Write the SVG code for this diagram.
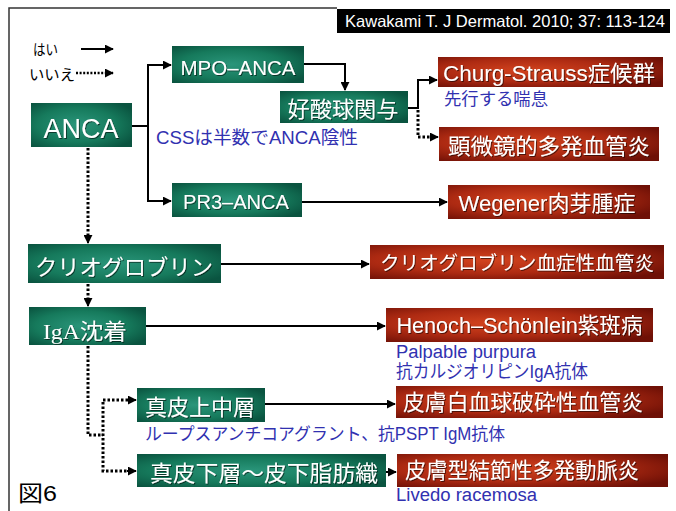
<svg xmlns="http://www.w3.org/2000/svg" width="676" height="511" viewBox="0 0 676 511">
<defs>
<radialGradient id="gG" cx="0.45" cy="0.5" r="0.65">
<stop offset="0" stop-color="#2a957a"/>
<stop offset="0.6" stop-color="#167a5c"/>
<stop offset="1" stop-color="#0a5440"/>
</radialGradient>
<radialGradient id="gR" cx="0.4" cy="0.45" r="0.7">
<stop offset="0" stop-color="#d2431e"/>
<stop offset="0.55" stop-color="#ad2a12"/>
<stop offset="1" stop-color="#6e1006"/>
</radialGradient>
<filter id="sh" x="-5%" y="-20%" width="110%" height="140%">
<feDropShadow dx="1" dy="1" stdDeviation="0.4" flood-color="#000" flood-opacity="0.55"/>
</filter>
<marker id="ah" viewBox="0 0 10 10" refX="9" refY="5" markerWidth="9" markerHeight="9" markerUnits="userSpaceOnUse" orient="auto">
<path d="M0,0 L10,5 L0,10 z" fill="#000"/>
</marker>
<style>
.g{fill:url(#gG)}
.r{fill:url(#gR)}
.t{fill:#fff;font-family:"Liberation Sans","Noto Sans CJK JP",sans-serif;font-size:22px;text-anchor:middle;filter:url(#sh)}
.b{fill:#3131b0;font-family:"Liberation Sans","Noto Sans CJK JP",sans-serif;font-size:18px}
.k{fill:#000;font-family:"Liberation Sans","Noto Sans CJK JP",sans-serif;font-size:15px}
.s{fill:none;stroke:#000;stroke-width:2}
.d{fill:none;stroke:#000;stroke-width:3;stroke-dasharray:2.5 2}
</style>
</defs>
<rect width="676" height="511" fill="#fff"/>
<path d="M9,511 V8 H337" fill="none" stroke="#333" stroke-width="1.5"/>
<g id="title">
<rect x="337" y="9" width="333" height="24" fill="#000"/>
<text x="505" y="27" fill="#fff" font-family="Liberation Sans, sans-serif" font-size="16.5" text-anchor="middle" textLength="320" lengthAdjust="spacingAndGlyphs">Kawakami T. J Dermatol. 2010; 37: 113-124</text>
</g>
<g id="legend">
<text class="k" x="33" y="55" textLength="25" lengthAdjust="spacingAndGlyphs">はい</text>
<text class="k" x="29" y="80" textLength="46" lengthAdjust="spacingAndGlyphs">いいえ</text>
<path class="s" d="M81,49 H113" marker-end="url(#ah)"/>
<path d="M76,73 H113" fill="none" stroke="#000" stroke-width="2.5" stroke-dasharray="2 1.6" marker-end="url(#ah)"/>
</g>
<text x="18" y="501" fill="#000" font-family="Liberation Sans, Noto Sans CJK JP, sans-serif" font-size="22" textLength="39" lengthAdjust="spacingAndGlyphs">図6</text>

<g id="connectors">
<path class="s" d="M132,126 H148 V65 H171" marker-end="url(#ah)"/>
<path class="s" d="M148,126 V201 H171" marker-end="url(#ah)"/>
<path class="s" d="M304,64 H345 V90" marker-end="url(#ah)"/>
<path class="s" d="M408,108 H418 V80 H437" marker-end="url(#ah)"/>
<path class="d" d="M418,110 V137 H430"/>
<path class="s" d="M430,137 H438" marker-end="url(#ah)"/>
<path class="s" d="M302,202 H447" marker-end="url(#ah)"/>
<path class="d" d="M88,148 V236"/>
<path class="s" d="M88,236 V243" marker-end="url(#ah)"/>
<path class="s" d="M221,264 H369" marker-end="url(#ah)"/>
<path class="d" d="M88,284 V299"/>
<path class="s" d="M88,299 V306" marker-end="url(#ah)"/>
<path class="s" d="M146,326 H385" marker-end="url(#ah)"/>
<path class="d" d="M88,346 V435 H103"/>
<path class="d" d="M128,400 H103 V471 H128"/>
<path class="s" d="M127,400 H136" marker-end="url(#ah)"/>
<path class="s" d="M127,471 H136" marker-end="url(#ah)"/>
<path class="s" d="M265,404 H395" marker-end="url(#ah)"/>
<path class="s" d="M386,472 H396" marker-end="url(#ah)"/>
</g>

<g id="anca"><rect class="g" x="31" y="103" width="101" height="44"/><text class="t" x="81" y="138" style="font-size:27px" textLength="75" lengthAdjust="spacingAndGlyphs">ANCA</text></g>
<g id="mpo"><rect class="g" x="172" y="46" width="132" height="37"/><text class="t" x="238" y="75" style="font-size:20px" textLength="115" lengthAdjust="spacingAndGlyphs">MPO–ANCA</text></g>
<g id="kosan"><rect class="g" x="280" y="91" width="128" height="32"/><text class="t" x="343" y="117" textLength="111" lengthAdjust="spacingAndGlyphs">好酸球関与</text></g>
<g id="pr3"><rect class="g" x="172" y="183" width="130" height="34"/><text class="t" x="236" y="209" style="font-size:20px" textLength="106" lengthAdjust="spacingAndGlyphs">PR3–ANCA</text></g>
<g id="cryo"><rect class="g" x="28" y="244" width="193" height="39"/><text class="t" x="124" y="275" textLength="178" lengthAdjust="spacingAndGlyphs">クリオグロブリン</text></g>
<g id="iga"><rect class="g" x="29" y="307" width="117" height="38"/><text class="t" x="85" y="339" style="font-family:'Liberation Serif','Noto Sans CJK JP',serif" textLength="84" lengthAdjust="spacingAndGlyphs">IgA沈着</text></g>
<g id="shinpi1"><rect class="g" x="137" y="388" width="128" height="34"/><text class="t" x="200" y="415" textLength="110" lengthAdjust="spacingAndGlyphs">真皮上中層</text></g>
<g id="shinpi2"><rect class="g" x="137" y="454" width="249" height="33"/><text class="t" x="264" y="481" textLength="228" lengthAdjust="spacingAndGlyphs">真皮下層〜皮下脂肪織</text></g>

<g id="churg"><rect class="r" x="438" y="57" width="225" height="30"/><text class="t" x="549" y="81" textLength="212" lengthAdjust="spacingAndGlyphs">Churg-Strauss症候群</text></g>
<g id="mpa"><rect class="r" x="439" y="127" width="220" height="34"/><text class="t" x="549" y="154" textLength="202" lengthAdjust="spacingAndGlyphs">顕微鏡的多発血管炎</text></g>
<g id="wegener"><rect class="r" x="448" y="185" width="202" height="34"/><text class="t" x="547" y="211" textLength="177" lengthAdjust="spacingAndGlyphs">Wegener肉芽腫症</text></g>
<g id="cryov"><rect class="r" x="370" y="245" width="294" height="34"/><text class="t" x="517" y="270" style="font-size:19.5px" textLength="274" lengthAdjust="spacingAndGlyphs">クリオグロブリン血症性血管炎</text></g>
<g id="hsp"><rect class="r" x="386" y="308" width="267" height="34"/><text class="t" x="519.5" y="333" textLength="246" lengthAdjust="spacingAndGlyphs">Henoch–Schönlein紫斑病</text></g>
<g id="lcv"><rect class="r" x="396" y="386" width="267" height="32"/><text class="t" x="523" y="410" textLength="240" lengthAdjust="spacingAndGlyphs">皮膚白血球破砕性血管炎</text></g>
<g id="cpan"><rect class="r" x="397" y="454" width="271" height="33"/><text class="t" x="522" y="478" textLength="234" lengthAdjust="spacingAndGlyphs">皮膚型結節性多発動脈炎</text></g>

<g id="notes">
<text class="b" x="444" y="105" style="font-size:17px" textLength="104" lengthAdjust="spacingAndGlyphs">先行する喘息</text>
<text class="b" x="156" y="144" textLength="202" lengthAdjust="spacingAndGlyphs">CSSは半数でANCA陰性</text>
<text class="b" x="396" y="358" textLength="140" lengthAdjust="spacingAndGlyphs">Palpable purpura</text>
<text class="b" x="396" y="378" textLength="192" lengthAdjust="spacingAndGlyphs">抗カルジオリピンIgA抗体</text>
<text class="b" x="145" y="440" style="font-size:17.5px" textLength="360" lengthAdjust="spacingAndGlyphs">ループスアンチコアグラント、抗PSPT IgM抗体</text>
<text class="b" x="396" y="501" textLength="141" lengthAdjust="spacingAndGlyphs">Livedo racemosa</text>
</g>
</svg>
